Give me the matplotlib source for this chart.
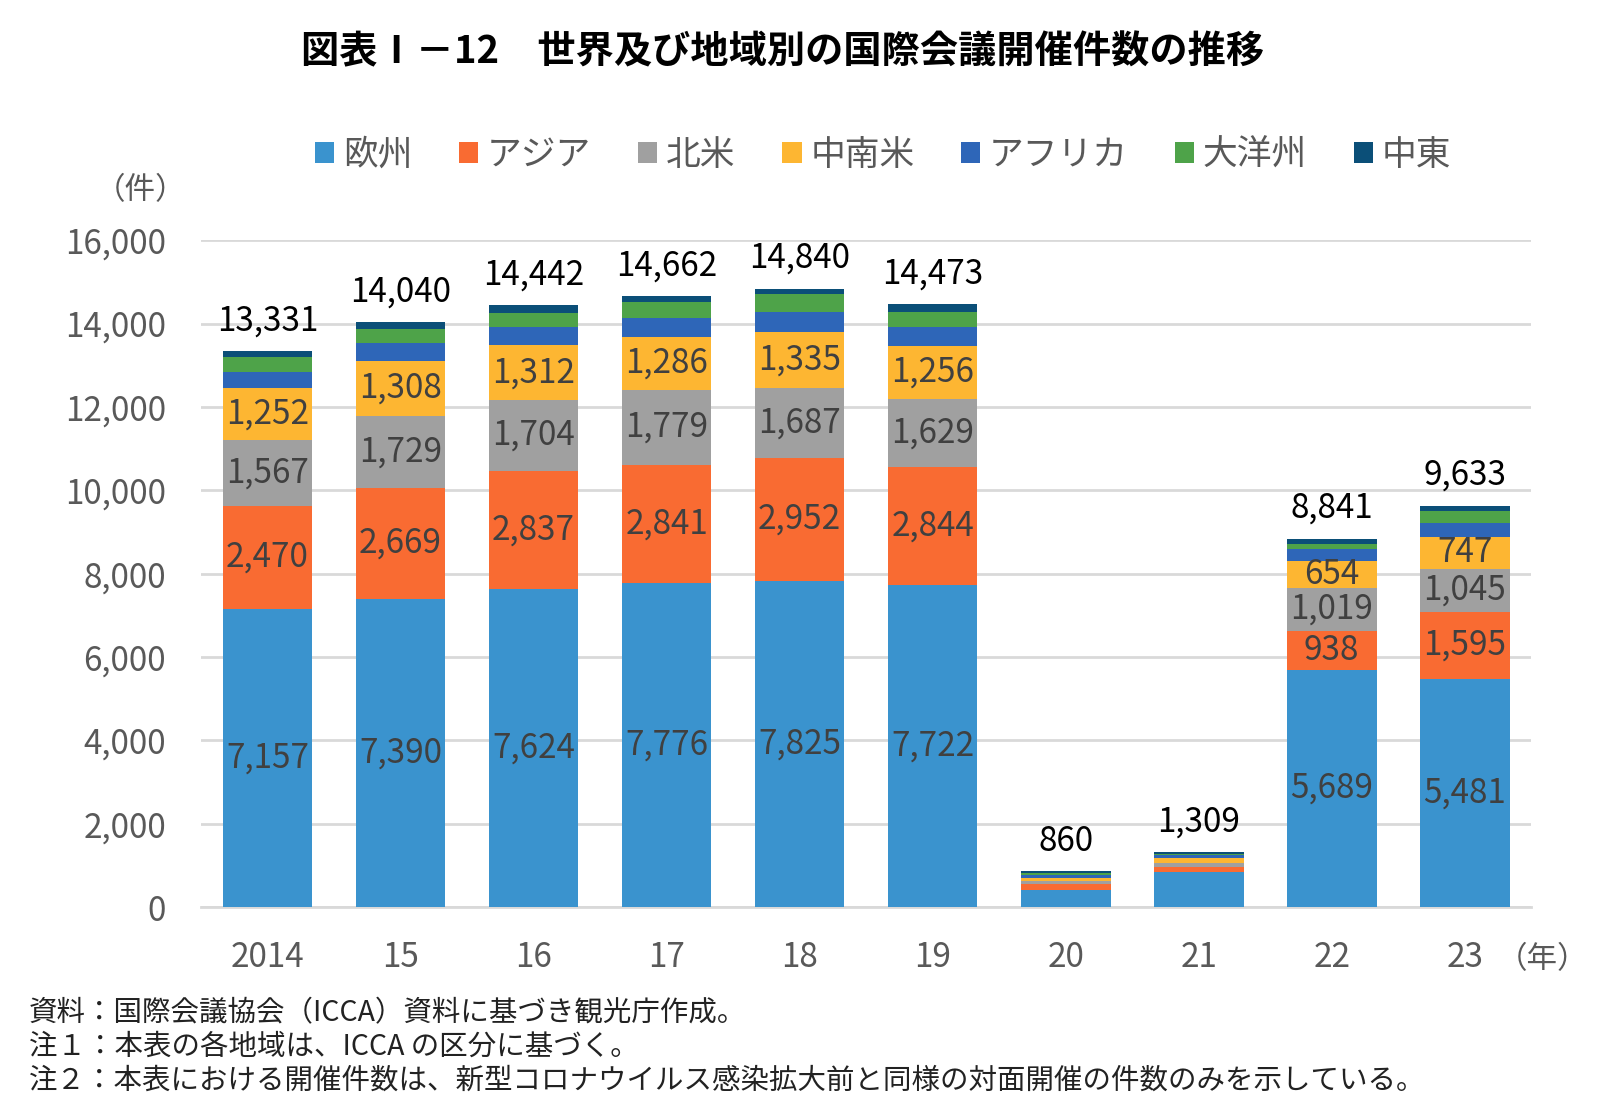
import matplotlib
matplotlib.use("Agg")
from matplotlib import pyplot as plt
import numpy as np

plt.rcParams['font.family'] = ['Noto Sans CJK JP', 'DejaVu Sans']

# 年と地域別の件数
years = ['2014', '15', '16', '17', '18', '19', '20', '21', '22', '23']
regions = ['欧州', 'アジア', '北米', '中南米', 'アフリカ', '大洋州', '中東']
europe = [7157, 7390, 7624, 7776, 7825, 7722, 400, 834, 5689, 5481]
asia = [2470, 2669, 2837, 2841, 2952, 2844, 150, 130, 938, 1595]
namerica = [1567, 1729, 1704, 1779, 1687, 1629, 80, 98, 1019, 1045]
latam = [1252, 1308, 1312, 1286, 1335, 1256, 70, 122, 654, 747]
africa = [385, 434, 445, 445, 478, 469, 60, 57, 279, 337]
oceania = [370, 330, 325, 385, 420, 361, 60, 40, 127, 288]
mideast = [130, 180, 195, 150, 143, 192, 40, 28, 135, 140]
totals = [13331, 14040, 14442, 14662, 14840, 14473, 860, 1309, 8841, 9633]

series = [europe, asia, namerica, latam, africa, oceania, mideast]
colors = ['#3A93CE', '#F96B32', '#A0A0A0', '#FDB632', '#2E66B8', '#4EA349', '#0B4F78']
# ラベルを付ける系列（欧州〜中南米）、20・21年は付けない
labeled = [0, 1, 2, 3]
no_label_years = [6, 7]

fig = plt.figure(figsize=(16, 11.17), dpi=100)
ax = fig.add_axes([0.1256, 0.188, 0.8314, 0.597])

x = np.arange(len(years))
bottom = np.zeros(len(years))
handles = []
for k, vals in enumerate(series):
  vals = np.array(vals, dtype=float)
  b = ax.bar(x, vals, width=0.675, bottom=bottom, color=colors[k], zorder=3, label=regions[k])
  handles.append(b)
  if k in labeled:
    for i in range(len(years)):
      if i in no_label_years:
        continue
      ax.text(x[i], bottom[i] + vals[i] / 2, '{:,}'.format(int(vals[i])),
              ha='center', va='center', fontsize=24, color='#404040', zorder=4)
  bottom = bottom + vals

for i in range(len(years)):
  ax.annotate('{:,}'.format(totals[i]), (x[i], totals[i]), xytext=(0, 9),
              textcoords='offset points', ha='center', va='bottom', fontsize=24, color='black')

ax.set_xlim(-0.5, len(years) - 0.5)
ax.set_ylim(0, 16000)
ax.set_yticks(range(0, 16001, 2000))
ax.set_yticklabels(['{:,}'.format(v) for v in range(0, 16001, 2000)])
ax.set_xticks(x)
ax.set_xticklabels(years)
ax.tick_params(axis='both', length=0, labelsize=24, labelcolor='#595959')
ax.tick_params(axis='x', pad=24)
ax.tick_params(axis='y', pad=25)
ax.yaxis.grid(True, color='#D9D9D9', linewidth=2, zorder=0)
for s in ['top', 'right', 'left']:
  ax.spines[s].set_visible(False)
ax.spines['bottom'].set_color('#D9D9D9')
ax.spines['bottom'].set_linewidth(2)

fig.text(0.088, 0.829, '（件）', fontsize=22, color='#595959', ha='center', va='center')
fig.text(0.964, 0.141, '（年）', fontsize=22, color='#595959', ha='center', va='center')

fig.legend(handles=handles, labels=regions, loc='center', bbox_to_anchor=(0.552, 0.861),
           ncol=7, frameon=False, fontsize=25, handlelength=0.55, handleheight=0.55,
           handletextpad=0.25, columnspacing=1.35, labelcolor='#595959')

fig.text(0.489, 0.954, '図表Ⅰ－12　世界及び地域別の国際会議開催件数の推移',
         fontsize=27.5, fontweight='bold', ha='center', va='center', color='black')

notes = ['資料：国際会議協会（ICCA）資料に基づき観光庁作成。',
         '注１：本表の各地域は、ICCA の区分に基づく。',
         '注２：本表における開催件数は、新型コロナウイルス感染拡大前と同様の対面開催の件数のみを示している。']
for j, t in enumerate(notes):
  fig.text(0.018, 0.093 - j * 0.0302, t, fontsize=20.5, color='#222222', ha='left', va='center')

fig.savefig('out.png', dpi=100)
